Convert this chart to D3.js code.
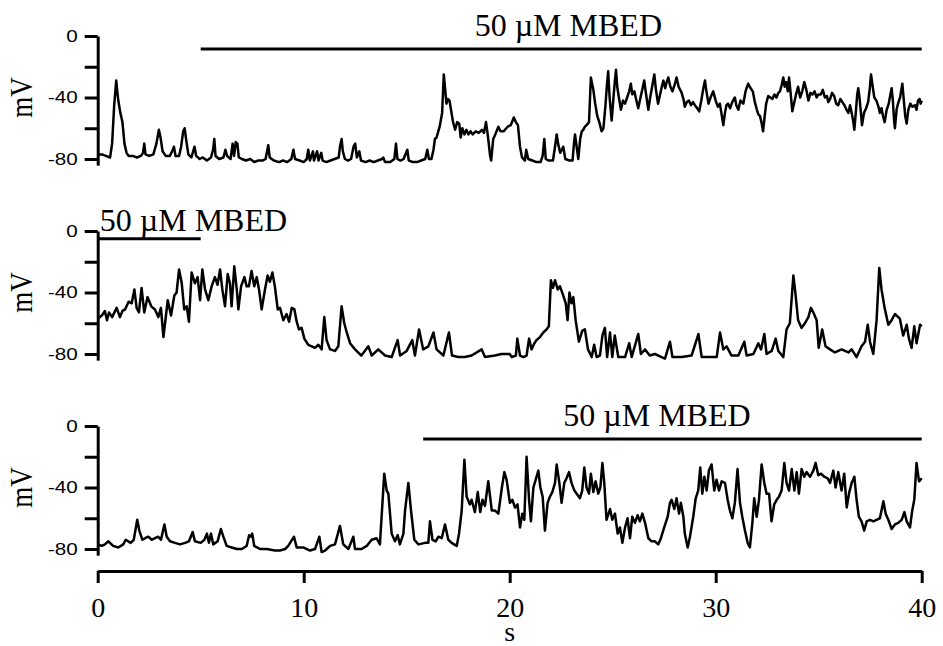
<!DOCTYPE html>
<html>
<head>
<meta charset="utf-8">
<script src="https://cdn.jsdelivr.net/npm/d3@7"></script>
<style>
  body { margin: 0; background: #fff; }
  .serif { font-family: "Liberation Serif", "Times New Roman", serif; }
</style>
</head>
<body>
<script>
// membrane potential traces, [time (s), mV]
var trace1 = [[0,-77],[0.2,-77],[0.4,-78],[0.6,-79],[0.7,-70],[0.8,-45],[0.9,-29],[0.95,-36],[1.0,-42],[1.1,-50],[1.2,-56],[1.3,-70],[1.4,-76],[1.5,-78],[1.7,-78],[1.9,-79],[2.1,-78],[2.2,-76],[2.26,-70],[2.32,-77],[2.5,-78],[2.7,-77],[2.85,-70],[2.97,-61],[3.05,-66],[3.15,-75],[3.3,-78],[3.5,-78],[3.65,-74],[3.7,-72],[3.78,-78],[3.95,-78],[4.05,-72],[4.15,-62],[4.22,-60],[4.3,-68],[4.4,-77],[4.55,-79],[4.7,-72],[4.78,-78],[4.95,-80],[5.1,-79],[5.3,-81],[5.5,-79],[5.6,-74],[5.66,-67],[5.72,-78],[5.9,-80],[6.1,-79],[6.2,-74],[6.28,-78],[6.45,-80],[6.55,-70],[6.62,-78],[6.7,-69],[6.78,-70],[6.85,-79],[7.0,-80],[7.2,-81],[7.4,-80],[7.6,-82],[7.8,-81],[8.0,-81],[8.15,-80],[8.28,-71],[8.35,-79],[8.55,-81],[8.8,-82],[9.0,-81],[9.2,-82],[9.4,-80],[9.5,-74],[9.58,-80],[9.8,-81],[10.0,-82],[10.15,-80],[10.22,-74],[10.3,-81],[10.45,-75],[10.5,-81],[10.65,-75],[10.72,-81],[10.85,-76],[10.92,-81],[11.1,-82],[11.3,-81],[11.5,-80],[11.7,-79],[11.76,-72],[11.84,-67],[11.9,-75],[12.0,-80],[12.15,-81],[12.3,-80],[12.42,-72],[12.5,-70],[12.58,-79],[12.7,-75],[12.78,-81],[13.0,-82],[13.2,-81],[13.4,-82],[13.6,-81],[13.8,-80],[13.86,-79],[13.95,-82],[14.2,-82],[14.4,-80],[14.48,-70],[14.55,-80],[14.7,-81],[14.85,-80],[15.03,-74],[15.1,-81],[15.3,-82],[15.5,-82],[15.7,-81],[15.9,-80],[16.0,-74],[16.08,-80],[16.2,-80],[16.3,-74],[16.37,-67],[16.45,-66],[16.6,-59],[16.72,-50],[16.8,-25],[16.87,-35],[16.93,-44],[17.0,-41],[17.08,-42],[17.15,-48],[17.25,-56],[17.35,-61],[17.45,-56],[17.55,-57],[17.62,-66],[17.7,-60],[17.8,-64],[17.9,-61],[18.0,-64],[18.1,-62],[18.2,-64],[18.35,-62],[18.5,-63],[18.65,-61],[18.75,-63],[18.85,-56],[18.95,-66],[19.05,-78],[19.1,-81],[19.2,-67],[19.3,-64],[19.45,-59],[19.55,-62],[19.7,-62],[19.77,-61],[19.9,-59],[20.05,-58],[20.2,-53],[20.3,-56],[20.4,-58],[20.5,-72],[20.6,-79],[20.74,-81],[20.8,-74],[20.9,-80],[21.1,-81],[21.3,-82],[21.5,-82],[21.6,-78],[21.68,-67],[21.75,-80],[21.9,-81],[22.1,-81],[22.2,-72],[22.28,-64],[22.35,-70],[22.45,-76],[22.6,-72],[22.7,-80],[22.9,-81],[23.05,-81],[23.12,-70],[23.17,-64],[23.25,-72],[23.33,-80],[23.42,-67],[23.5,-62],[23.57,-61],[23.65,-59],[23.73,-58],[23.85,-56],[23.94,-27],[24.0,-31],[24.06,-35],[24.15,-44],[24.25,-52],[24.35,-56],[24.46,-62],[24.55,-60],[24.65,-45],[24.72,-32],[24.78,-23],[24.85,-40],[24.95,-55],[25.05,-38],[25.1,-30],[25.16,-22],[25.22,-33],[25.3,-40],[25.4,-48],[25.5,-42],[25.6,-44],[25.7,-40],[25.8,-36],[25.88,-31],[25.95,-38],[26.05,-36],[26.15,-42],[26.24,-47],[26.35,-40],[26.45,-34],[26.53,-29],[26.6,-36],[26.73,-48],[26.82,-40],[26.9,-34],[27.02,-25],[27.1,-35],[27.2,-44],[27.3,-38],[27.4,-32],[27.46,-29],[27.55,-34],[27.62,-30],[27.7,-27],[27.8,-33],[27.9,-36],[28.0,-32],[28.1,-27],[28.2,-33],[28.35,-37],[28.45,-42],[28.5,-46],[28.6,-43],[28.7,-42],[28.8,-45],[28.9,-43],[28.99,-45],[29.1,-47],[29.2,-49],[29.3,-42],[29.4,-34],[29.48,-29],[29.55,-36],[29.65,-44],[29.75,-40],[29.88,-36],[30.0,-42],[30.1,-46],[30.2,-44],[30.3,-52],[30.37,-58],[30.45,-50],[30.52,-45],[30.6,-44],[30.7,-47],[30.8,-43],[30.93,-40],[31.0,-45],[31.1,-48],[31.2,-42],[31.34,-44],[31.45,-36],[31.52,-33],[31.58,-31],[31.65,-33],[31.8,-36],[31.9,-43],[32.0,-48],[32.07,-51],[32.15,-52],[32.22,-56],[32.3,-62],[32.38,-52],[32.45,-44],[32.55,-39],[32.65,-40],[32.75,-41],[32.85,-38],[32.95,-40],[33.04,-37],[33.12,-36],[33.2,-32],[33.28,-27],[33.35,-33],[33.42,-30],[33.5,-36],[33.56,-27],[33.63,-36],[33.72,-49],[33.8,-44],[33.9,-38],[34.0,-33],[34.1,-40],[34.2,-36],[34.3,-30],[34.4,-35],[34.5,-42],[34.6,-37],[34.7,-38],[34.8,-36],[34.9,-40],[34.98,-38],[35.1,-38],[35.2,-35],[35.3,-40],[35.4,-39],[35.46,-43],[35.55,-41],[35.65,-37],[35.75,-39],[35.85,-44],[35.95,-45],[36.05,-41],[36.15,-43],[36.25,-45],[36.35,-48],[36.44,-50],[36.52,-45],[36.6,-50],[36.67,-55],[36.73,-61],[36.8,-50],[36.87,-38],[36.92,-34],[36.98,-40],[37.05,-50],[37.1,-58],[37.2,-50],[37.3,-47],[37.4,-43],[37.48,-34],[37.54,-25],[37.6,-31],[37.7,-40],[37.8,-42],[37.9,-46],[37.97,-50],[38.05,-47],[38.12,-52],[38.2,-56],[38.3,-48],[38.4,-44],[38.48,-38],[38.54,-34],[38.6,-42],[38.66,-55],[38.7,-60],[38.78,-48],[38.85,-44],[38.95,-40],[39.06,-31],[39.12,-40],[39.2,-52],[39.27,-57],[39.35,-48],[39.45,-44],[39.55,-46],[39.67,-45],[39.75,-48],[39.82,-42],[39.9,-41],[39.95,-44],[40.0,-42]];

var trace2 = [[0,-57],[0.2,-55],[0.35,-52],[0.45,-58],[0.55,-53],[0.7,-56],[0.92,-50],[1.08,-56],[1.2,-52],[1.33,-51],[1.5,-46],[1.65,-47],[1.78,-38],[1.89,-50],[2.0,-53],[2.13,-37],[2.26,-53],[2.42,-43],[2.6,-49],[2.78,-51],[2.94,-56],[3.07,-50],[3.19,-69],[3.27,-60],[3.4,-45],[3.56,-55],[3.72,-42],[3.83,-40],[3.95,-25],[4.08,-34],[4.2,-51],[4.32,-49],[4.43,-59],[4.56,-27],[4.72,-34],[4.85,-30],[4.97,-45],[5.08,-25],[5.21,-38],[5.37,-45],[5.53,-36],[5.69,-30],[5.82,-35],[5.94,-25],[6.05,-38],[6.18,-49],[6.31,-28],[6.42,-34],[6.5,-49],[6.63,-23],[6.75,-38],[6.83,-51],[6.96,-36],[7.12,-30],[7.23,-36],[7.34,-36],[7.47,-26],[7.6,-36],[7.72,-30],[7.83,-38],[7.96,-51],[8.12,-38],[8.25,-29],[8.36,-33],[8.48,-27],[8.6,-36],[8.74,-51],[8.85,-50],[9.01,-58],[9.17,-54],[9.29,-59],[9.42,-50],[9.55,-51],[9.66,-59],[9.77,-64],[9.9,-63],[10.03,-70],[10.22,-74],[10.39,-75],[10.55,-76],[10.71,-74],[10.87,-77],[11.0,-56],[11.11,-71],[11.28,-77],[11.52,-78],[11.68,-75],[11.84,-49],[11.97,-60],[12.09,-66],[12.25,-73],[12.49,-77],[12.8,-81],[13.14,-75],[13.3,-81],[13.62,-77],[13.95,-81],[14.27,-82],[14.56,-71],[14.68,-81],[15.0,-78],[15.27,-71],[15.4,-81],[15.6,-64],[15.8,-77],[16.05,-75],[16.3,-66],[16.45,-77],[16.78,-81],[17.05,-66],[17.2,-81],[17.5,-82],[17.83,-82],[18.15,-81],[18.64,-77],[18.8,-82],[19.28,-81],[19.6,-80],[20.0,-80],[20.1,-82],[20.3,-81],[20.37,-70],[20.5,-81],[20.66,-82],[20.82,-81],[20.94,-70],[21.06,-77],[21.2,-73],[21.3,-71],[21.47,-69],[21.63,-66],[21.79,-64],[21.9,-62],[22.0,-32],[22.1,-37],[22.2,-32],[22.33,-38],[22.44,-36],[22.6,-42],[22.72,-47],[22.81,-58],[22.9,-40],[23.0,-47],[23.09,-43],[23.2,-58],[23.36,-72],[23.52,-65],[23.65,-64],[23.8,-77],[23.98,-82],[24.1,-74],[24.22,-82],[24.38,-81],[24.5,-68],[24.62,-63],[24.73,-82],[24.87,-66],[24.98,-82],[25.1,-68],[25.27,-82],[25.6,-82],[25.8,-73],[25.92,-82],[26.24,-67],[26.37,-80],[26.57,-77],[26.8,-81],[27.05,-80],[27.37,-82],[27.54,-83],[27.78,-72],[27.9,-82],[28.35,-82],[28.83,-81],[29.16,-67],[29.32,-82],[29.72,-82],[30.05,-82],[30.21,-66],[30.37,-77],[30.53,-75],[30.77,-81],[31.1,-81],[31.39,-72],[31.5,-81],[31.83,-80],[32.07,-73],[32.2,-77],[32.36,-67],[32.47,-80],[32.72,-78],[32.91,-70],[33.04,-78],[33.28,-82],[33.44,-64],[33.6,-60],[33.77,-29],[33.85,-38],[34.0,-58],[34.17,-63],[34.33,-60],[34.5,-56],[34.62,-50],[34.74,-53],[34.9,-58],[35.0,-76],[35.17,-64],[35.33,-75],[35.55,-77],[35.79,-79],[36.11,-77],[36.44,-79],[36.6,-77],[36.84,-82],[37.08,-75],[37.25,-72],[37.38,-61],[37.49,-72],[37.65,-80],[37.81,-58],[37.94,-24],[38.05,-38],[38.2,-50],[38.38,-61],[38.54,-58],[38.7,-54],[38.94,-57],[39.1,-68],[39.27,-61],[39.38,-70],[39.51,-76],[39.64,-62],[39.75,-73],[39.92,-61],[40.0,-62]];

var trace3 = [[0,-77],[0.2,-78],[0.35,-77],[0.52,-75],[0.75,-78],[1.0,-79],[1.24,-77],[1.36,-74],[1.6,-76],[1.75,-74],[1.92,-61],[2.02,-68],[2.17,-74],[2.3,-73],[2.46,-72],[2.62,-74],[2.78,-73],[2.94,-72],[3.07,-74],[3.24,-64],[3.35,-72],[3.51,-75],[3.75,-76],[4.0,-77],[4.24,-76],[4.43,-75],[4.61,-69],[4.72,-75],[5.0,-76],[5.18,-74],[5.3,-70],[5.4,-76],[5.5,-70],[5.61,-77],[5.82,-75],[5.98,-67],[6.1,-72],[6.26,-78],[6.5,-79],[6.75,-80],[7.0,-80],[7.23,-78],[7.35,-71],[7.45,-72],[7.5,-70],[7.6,-78],[7.88,-80],[8.2,-80],[8.6,-81],[8.85,-81],[9.1,-80],[9.25,-78],[9.53,-72],[9.66,-79],[9.98,-79],[10.3,-81],[10.55,-80],[10.76,-72],[10.87,-82],[11.04,-81],[11.28,-78],[11.52,-77],[11.76,-65],[11.92,-77],[12.17,-80],[12.41,-72],[12.49,-80],[12.81,-80],[13.06,-78],[13.3,-74],[13.54,-73],[13.7,-77],[13.91,-31],[14.03,-42],[14.11,-44],[14.27,-70],[14.43,-75],[14.56,-71],[14.67,-77],[14.84,-70],[14.92,-55],[15.08,-37],[15.21,-55],[15.37,-74],[15.57,-77],[15.89,-76],[16.05,-76],[16.13,-62],[16.25,-74],[16.41,-75],[16.54,-72],[16.7,-73],[16.86,-64],[17.02,-74],[17.18,-76],[17.43,-78],[17.54,-70],[17.67,-55],[17.8,-22],[17.91,-46],[18.07,-51],[18.15,-48],[18.31,-56],[18.45,-43],[18.57,-56],[18.68,-48],[18.8,-52],[18.96,-36],[19.13,-55],[19.29,-55],[19.45,-57],[19.61,-41],[19.74,-30],[19.85,-35],[20.01,-50],[20.13,-48],[20.26,-53],[20.38,-51],[20.5,-66],[20.61,-57],[20.71,-61],[20.82,-20],[20.94,-48],[21.03,-62],[21.15,-40],[21.26,-35],[21.39,-29],[21.49,-40],[21.6,-46],[21.71,-68],[21.84,-50],[21.95,-46],[22.07,-43],[22.2,-37],[22.28,-25],[22.41,-37],[22.52,-50],[22.65,-37],[22.76,-34],[22.88,-30],[23.0,-37],[23.14,-42],[23.25,-44],[23.41,-47],[23.52,-42],[23.62,-27],[23.73,-40],[23.85,-44],[23.94,-31],[24.06,-43],[24.17,-36],[24.3,-44],[24.4,-40],[24.5,-24],[24.59,-37],[24.7,-61],[24.87,-54],[24.98,-61],[25.11,-57],[25.24,-70],[25.35,-66],[25.47,-76],[25.6,-66],[25.72,-60],[25.84,-73],[25.95,-59],[26.08,-63],[26.21,-58],[26.32,-62],[26.44,-57],[26.57,-63],[26.73,-73],[26.89,-75],[27.05,-75],[27.21,-77],[27.34,-73],[27.5,-66],[27.67,-59],[27.78,-50],[27.86,-48],[27.99,-54],[28.1,-47],[28.22,-57],[28.31,-50],[28.43,-59],[28.5,-70],[28.64,-79],[28.75,-72],[28.91,-59],[29.03,-47],[29.15,-42],[29.25,-27],[29.35,-44],[29.45,-33],[29.56,-42],[29.67,-29],[29.8,-25],[29.93,-42],[30.04,-35],[30.16,-42],[30.29,-36],[30.45,-37],[30.58,-48],[30.69,-55],[30.81,-60],[30.93,-50],[31.06,-28],[31.18,-50],[31.29,-59],[31.42,-68],[31.55,-76],[31.66,-79],[31.78,-63],[31.87,-47],[31.99,-59],[32.1,-48],[32.23,-25],[32.36,-37],[32.47,-44],[32.59,-44],[32.71,-62],[32.84,-51],[32.96,-48],[33.07,-46],[33.2,-42],[33.33,-24],[33.44,-37],[33.56,-42],[33.69,-28],[33.82,-42],[33.93,-30],[34.04,-44],[34.17,-28],[34.3,-33],[34.41,-30],[34.58,-33],[34.74,-29],[34.85,-24],[34.98,-32],[35.11,-31],[35.27,-33],[35.43,-34],[35.55,-37],[35.71,-29],[35.82,-40],[35.95,-30],[36.11,-42],[36.24,-31],[36.36,-53],[36.47,-44],[36.6,-37],[36.73,-33],[36.84,-48],[36.95,-59],[37.08,-62],[37.21,-68],[37.33,-62],[37.49,-61],[37.65,-62],[37.81,-61],[37.97,-60],[38.14,-49],[38.25,-57],[38.38,-61],[38.54,-67],[38.7,-64],[38.86,-63],[39.03,-61],[39.16,-56],[39.27,-62],[39.43,-66],[39.54,-55],[39.64,-48],[39.75,-24],[39.87,-36],[40.0,-34]];

// drug application bars: [start s, end s], label start (s), bar level (mV)
var drugBars = [[5, 40], [0, 5], [15.8, 40]];
var drugLabelStart = [18.3, 0.1, 22.6];
var drugBarLevel = [-8.5, -5, -8.5];
var drugLabel = "50 \u00b5M MBED";

var yTicks = [0, -20, -40, -60, -80];
var yLabelTicks = [0, -40, -80];
var xTicks = [0, 10, 20, 30, 40];

var W = 943, H = 646;
var left = 97.7, right = 921.7;
var panelTop = [36, 231, 426];
var mvPx = 123 / 80;   // px per mV

var svg = d3.select("body").append("svg")
    .attr("width", W)
    .attr("height", H);

var x = d3.scaleLinear().domain([0, 40]).range([left, right]);

var traces = [trace1, trace2, trace3];

traces.forEach(function(tr, i){
    var top = panelTop[i];
    var y = d3.scaleLinear().domain([0, -84]).range([top, top + 84 * mvPx]);
    var g = svg.append("g");

    // y axis
    var ax = g.append("g")
        .attr("transform", "translate(" + left + ",0)")
        .call(d3.axisLeft(y).tickValues(yTicks).tickSize(13).tickSizeOuter(0).tickPadding(7)
            .tickFormat(function(d){ return yLabelTicks.indexOf(d) >= 0 ? d : ""; }));
    ax.select(".domain").attr("stroke-width", 3);
    ax.selectAll(".tick line").attr("stroke-width", 3);
    // tick labels are a little wide in the original, stretch them
    ax.selectAll(".tick text")
        .style("font-family", "'Liberation Sans', Arial, sans-serif")
        .style("font-size", "16.5px")
        .attr("fill", "#000")
        .attr("x", -20 / 1.25)
        .attr("transform", "scale(1.25,1)");

    // axis title
    g.append("text")
        .attr("class", "serif")
        .attr("transform", "translate(32," + y(-40) + ") rotate(-90) scale(1,1.15)")
        .attr("text-anchor", "middle")
        .style("font-size", "27px")
        .text("mV");

    // trace
    var line = d3.line()
        .x(function(d){ return x(d[0]); })
        .y(function(d){ return y(d[1]); });
    g.append("path")
        .datum(tr)
        .attr("fill", "none")
        .attr("stroke", "#000")
        .attr("stroke-width", 2.5)
        .attr("stroke-linejoin", "round")
        .attr("d", line);

    // drug bar and label
    g.append("line")
        .attr("x1", x(drugBars[i][0]))
        .attr("x2", x(drugBars[i][1]))
        .attr("y1", y(drugBarLevel[i]))
        .attr("y2", y(drugBarLevel[i]))
        .attr("stroke", "#000")
        .attr("stroke-width", 3);
    g.append("text")
        .attr("class", "serif")
        .attr("x", x(drugLabelStart[i]))
        .attr("y", y(0))
        .style("font-size", "32px")
        .text(drugLabel);
});

// x axis
var xa = svg.append("g")
    .attr("transform", "translate(0,571)")
    .call(d3.axisBottom(x).tickValues(xTicks).tickSize(12).tickSizeOuter(0).tickPadding(14));
xa.select(".domain").attr("stroke-width", 3);
xa.selectAll(".tick line").attr("stroke-width", 3);
xa.selectAll(".tick text")
    .style("font-family", "'Liberation Serif', 'Times New Roman', serif")
    .style("font-size", "28px")
    .attr("fill", "#000");

svg.append("text")
    .attr("class", "serif")
    .attr("x", x(20))
    .attr("y", 641)
    .attr("text-anchor", "middle")
    .style("font-size", "28px")
    .text("s");
</script>
</body>
</html>
